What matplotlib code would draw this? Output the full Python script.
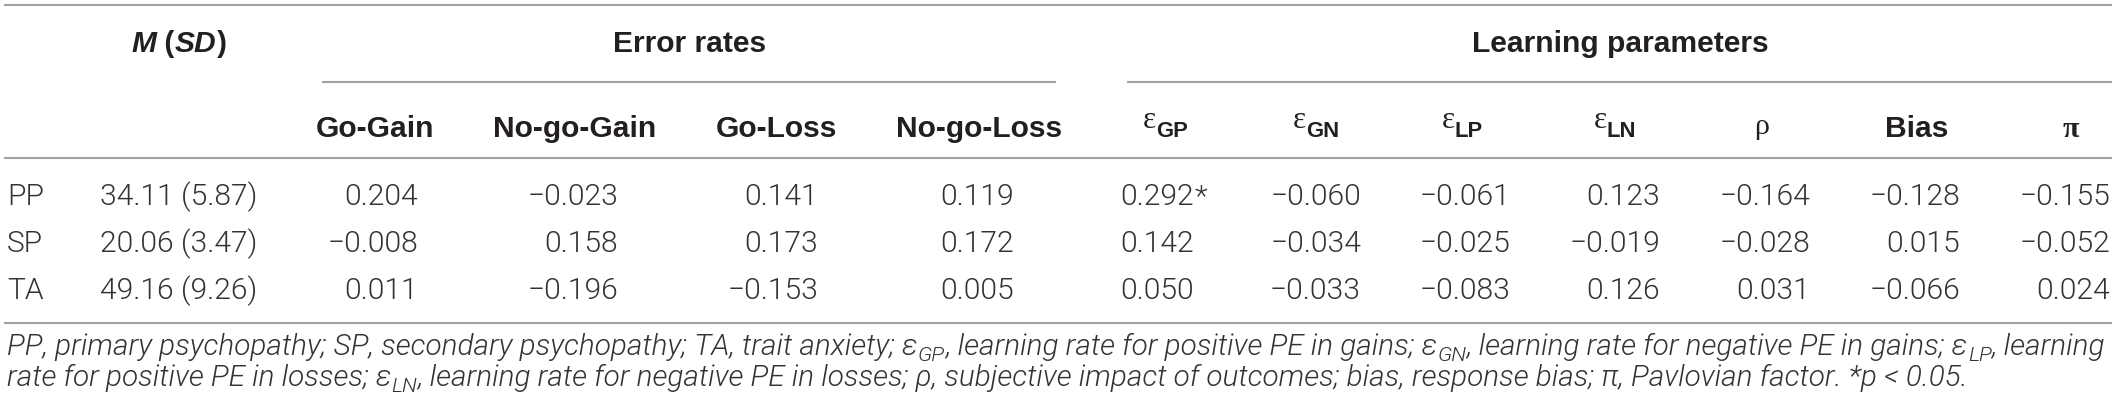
import matplotlib
matplotlib.use("Agg")
import matplotlib.pyplot as plt
from matplotlib import font_manager

# table content
rows = ["PP", "SP", "TA"]
means = [34.11, 20.06, 49.16]
sds = [5.87, 3.47, 9.26]
error_cols = ["Go-Gain", "No-go-Gain", "Go-Loss", "No-go-Loss"]
param_cols = [("ε", "GP"), ("ε", "GN"), ("ε", "LP"), ("ε", "LN"), "ρ", "Bias", "π"]
values = [
    [0.204, -0.023, 0.141, 0.119, 0.292, -0.060, -0.061, 0.123, -0.164, -0.128, -0.155],
    [-0.008, 0.158, 0.173, 0.172, 0.142, -0.034, -0.025, -0.019, -0.028, 0.015, -0.052],
    [0.011, -0.196, -0.153, 0.005, 0.050, -0.033, -0.083, 0.126, 0.031, -0.066, 0.024],
]
significant = [(0, 4)]
group_titles = ["Error rates", "Learning parameters"]

# layout (pixels)
W, H = 2118, 411
col_right = [418, 618, 818, 1014, 1194, 1361, 1510, 1660, 1810, 1960, 2110]
col_center = [375, 575, 776, 979, 1165, 1316, 1462, 1615, 1762, 1917, 2071]
row_base = [205, 252, 299]
group_center = [690, 1620]
msd_center = 179
line_col = "#a3a3a3"


def px(p):
    return p * 72 / 100


def pick_light():
    for fam in ["Roboto", "Lato", "Open Sans", "Inter", "Noto Sans"]:
        for f in font_manager.fontManager.ttflist:
            w = f.weight
            if isinstance(w, str):
                w = font_manager.weight_dict.get(w, 400)
            if f.name == fam and f.style == "normal" and w <= 300:
                return fam
    return "Liberation Sans"


light_family = pick_light()

bold = dict(family="Liberation Sans", weight="bold", size=px(30), color="#231f20")
bold_it = dict(bold, style="italic")
light = dict(family=[light_family, "DejaVu Sans"], weight=300, size=px(30), color="#333333")
serif = dict(family="Liberation Serif", size=px(30), color="#231f20")

fig = plt.figure(figsize=(W / 100, H / 100), dpi=100)
ax = fig.add_axes([0, 0, 1, 1])
ax.set_xlim(0, W)
ax.set_ylim(H, 0)
ax.axis("off")
renderer = fig.canvas.get_renderer()


def place(runs, x, y, ha="center"):
    ts = [ax.text(0, y + dy, s, va="baseline", ha="left", **kw) for s, kw, dy in runs]
    ws = [t.get_window_extent(renderer).width for t in ts]
    x0 = x - sum(ws) / 2 if ha == "center" else x
    for t, w in zip(ts, ws):
        t.set_x(x0)
        x0 += w
    return ts, sum(ws)


def fmt(v):
    s = f"{abs(v):.3f}"
    return "\u2212" + s if v < 0 else s


# rules
for x0, x1, y in [(4, 2112, 5), (322, 1056, 82), (1127, 2112, 82), (4, 2112, 158), (4, 2112, 323)]:
    ax.plot([x0, x1], [y, y], color=line_col, lw=1.5, solid_capstyle="butt")

# group headers
place([("M", bold_it, 0), (" (", bold, 0), ("SD", bold_it, 0), (")", bold, 0)], msd_center, 52)
for title, xc in zip(group_titles, group_center):
    ax.text(xc, 52, title, ha="center", va="baseline", **bold)

# column headers
for i, name in enumerate(error_cols):
    ax.text(col_center[i], 137, name, ha="center", va="baseline", **bold)
for j, name in enumerate(param_cols):
    xc = col_center[len(error_cols) + j]
    if isinstance(name, tuple):
        place([(name[0], dict(serif, size=px(31)), -9),
               (name[1], dict(bold, size=px(22)), 0)], xc, 137)
    elif name == "π":
        ax.text(xc, 137, name, ha="center", va="baseline", **dict(serif, weight="bold"))
    elif name == "ρ":
        ax.text(xc, 134, name, ha="center", va="baseline", **serif)
    else:
        ax.text(xc, 137, name, ha="center", va="baseline", **bold)

# body
for r, lab in enumerate(rows):
    y = row_base[r]
    ax.text(7, y, lab, ha="left", va="baseline", **light)
    ax.text(msd_center, y, f"{means[r]:.2f} ({sds[r]:.2f})", ha="center", va="baseline", **light)
    for c, v in enumerate(values[r]):
        ax.text(col_right[c], y, fmt(v), ha="right", va="baseline", **light)
        if (r, c) in significant:
            ax.text(col_right[c] + 1, y, "*", ha="left", va="baseline", **light)

# footnote, sized so the first line spans the table width
foot_lines = [
    [("PP, primary psychopathy; SP, secondary psychopathy; TA, trait anxiety; ε", False),
     ("GP", True),
     (", learning rate for positive PE in gains; ε", False),
     ("GN", True),
     (", learning rate for negative PE in gains; ε", False),
     ("LP", True),
     (", learning", False)],
    [("rate for positive PE in losses; ε", False),
     ("LN", True),
     (", learning rate for negative PE in losses; ρ, subjective impact of outcomes; "
      "bias, response bias; π, Pavlovian factor. *p < 0.05.", False)],
]
foot_base = [355, 386]


def foot_runs(parts, size):
    foot = dict(family=[light_family, "DejaVu Sans"], weight=300, style="italic",
                size=px(size), color="#333333")
    sub = dict(foot, size=px(size * 0.72))
    return [(s, sub if is_sub else foot, 6 if is_sub else 0) for s, is_sub in parts]


ts, w = place(foot_runs(foot_lines[0], 28), 7, foot_base[0], ha="left")
for t in ts:
    t.remove()
size = 28 * (2108 - 7) / w
for parts, yb in zip(foot_lines, foot_base):
    place(foot_runs(parts, size), 7, yb, ha="left")

fig.savefig("out.png", dpi=100)
